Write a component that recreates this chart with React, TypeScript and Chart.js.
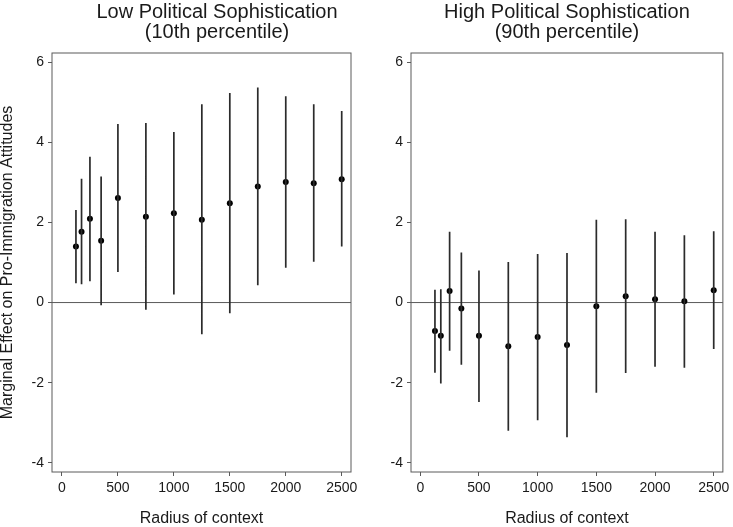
import React, { useEffect, useRef } from "react";
import { Chart, registerables } from "chart.js";

Chart.register(...registerables);

// ---------- data ----------
const radius = [125, 175, 250, 350, 500, 750, 1000, 1250, 1500, 1750, 2000, 2250, 2500];

const lowEst = [1.40, 1.77, 2.09, 1.54, 2.61, 2.14, 2.23, 2.07, 2.48, 2.90, 3.01, 2.98, 3.08];
const lowLo = [0.48, 0.46, 0.53, -0.07, 0.76, -0.18, 0.20, -0.79, -0.27, 0.43, 0.87, 1.02, 1.40];
const lowHi = [2.31, 3.09, 3.64, 3.15, 4.46, 4.48, 4.26, 4.95, 5.23, 5.37, 5.15, 4.95, 4.78];

const highEst = [-0.71, -0.83, 0.29, -0.15, -0.83, -1.09, -0.86, -1.06, -0.09, 0.16, 0.08, 0.03, 0.31];
const highLo = [-1.75, -2.02, -1.20, -1.55, -2.48, -3.20, -2.94, -3.36, -2.25, -1.76, -1.60, -1.63, -1.16];
const highHi = [0.32, 0.33, 1.77, 1.25, 0.80, 1.01, 1.21, 1.24, 2.07, 2.08, 1.77, 1.68, 1.78];

const xTicks = [0, 500, 1000, 1500, 2000, 2500];
const yTicks = [-4, -2, 0, 2, 4, 6];

const leftTitle = ["Low Political Sophistication", "(10th percentile)"];
const rightTitle = ["High Political Sophistication", "(90th percentile)"];
const xTitle = "Radius of context";
const yTitle = "Marginal Effect on Pro-Immigration Attitudes";

const FONT = "'Liberation Sans', Arial, Helvetica, sans-serif";
const TEXT = "#1a1a1a";
const AXIS = "#5a5a5a";

const panelPlugin = {
  id: "panelDecor",
  beforeDatasetsDraw(chart: any) {
    const { ctx, chartArea, scales } = chart;
    const y0 = scales.y.getPixelForValue(0);
    ctx.save();
    ctx.strokeStyle = AXIS;
    ctx.lineWidth = 1;
    ctx.beginPath();
    ctx.moveTo(chartArea.left, y0);
    ctx.lineTo(chartArea.right, y0);
    ctx.stroke();
    ctx.restore();
  },
  afterDraw(chart: any, _args: any, opts: any) {
    const { ctx, chartArea } = chart;
    ctx.save();
    ctx.strokeStyle = AXIS;
    ctx.lineWidth = 1;
    ctx.strokeRect(chartArea.left, chartArea.top, chartArea.right - chartArea.left, chartArea.bottom - chartArea.top);
    const lines: string[] = opts.lines || [];
    const cx = (chartArea.left + chartArea.right) / 2 + (opts.offsetX || 0);
    ctx.fillStyle = TEXT;
    ctx.font = `20px ${FONT}`;
    ctx.textAlign = "center";
    ctx.textBaseline = "alphabetic";
    lines.forEach((t, i) => ctx.fillText(t, cx, 17.5 + i * 20));
    ctx.restore();
  },
};

type PanelProps = {
  est: number[];
  lo: number[];
  hi: number[];
  title: string[];
  titleOffset: number;
  showYTitle: boolean;
  yAxisWidth: number;
  padRight: number;
  xMin: number;
  xMax: number;
  width: number;
};

function Panel(p: PanelProps) {
  const ref = useRef<HTMLCanvasElement>(null);
  useEffect(() => {
    if (!ref.current) return;
    const bars: any[] = [];
    radius.forEach((x, i) => {
      bars.push({ x, y: p.lo[i] });
      bars.push({ x, y: p.hi[i] });
      bars.push({ x, y: null });
    });
    const points = radius.map((x, i) => ({ x, y: p.est[i] }));
    const chart = new Chart(ref.current, {
      type: "scatter",
      data: {
        datasets: [
          {
            type: "line",
            data: bars,
            borderColor: "#2b2b2b",
            borderWidth: 1.7,
            pointRadius: 0,
            spanGaps: false,
            fill: false,
          } as any,
          {
            type: "scatter",
            data: points,
            backgroundColor: "#000",
            borderColor: "#000",
            pointRadius: 3,
            borderWidth: 0,
          } as any,
        ],
      },
      options: {
        animation: false,
        responsive: false,
        devicePixelRatio: 1,
        layout: { padding: { top: 53, right: p.padRight, bottom: 0, left: 0 } },
        plugins: {
          legend: { display: false },
          tooltip: { enabled: false },
          panelDecor: { lines: p.title, offsetX: p.titleOffset },
        } as any,
        scales: {
          x: {
            type: "linear",
            min: p.xMin,
            max: p.xMax,
            afterBuildTicks: (s: any) => {
              s.ticks = xTicks.map((v) => ({ value: v }));
            },
            afterFit: (s: any) => {
              s.height = 55;
            },
            ticks: {
              font: { family: FONT, size: 14 },
              color: TEXT,
              padding: 3.5,
              maxRotation: 0,
              callback: (v: any) => String(v),
            },
            grid: { drawOnChartArea: false, drawTicks: true, tickLength: 4, color: AXIS },
            border: { display: false },
            title: {
              display: true,
              text: xTitle,
              color: TEXT,
              font: { family: FONT, size: 16, lineHeight: 1.0625 },
              padding: { top: 0, bottom: 0 },
            },
          },
          y: {
            type: "linear",
            min: -4.23,
            max: 6.23,
            afterBuildTicks: (s: any) => {
              s.ticks = yTicks.map((v) => ({ value: v }));
            },
            afterFit: (s: any) => {
              s.width = p.yAxisWidth;
            },
            ticks: {
              font: { family: FONT, size: 14 },
              color: TEXT,
              padding: 4,
              callback: (v: any) => String(v),
            },
            grid: { drawOnChartArea: false, drawTicks: true, tickLength: 4, color: AXIS },
            border: { display: false },
            title: {
              display: p.showYTitle,
              text: yTitle,
              color: TEXT,
              font: { family: FONT, size: 16, lineHeight: 1.0 },
              padding: { top: 0, bottom: 0 },
            },
          },
        },
      },
      plugins: [panelPlugin as any],
    });
    return () => chart.destroy();
  }, []);
  return (
    <canvas
      ref={ref}
      width={p.width}
      height={527}
      style={{ width: p.width, height: 527, display: "block" }}
    />
  );
}

export default function App() {
  return (
    <div
      style={{
        position: "absolute",
        left: 0,
        top: 0,
        width: 733,
        height: 527,
        display: "flex",
        background: "#fff",
      }}
    >
      <Panel
        est={lowEst}
        lo={lowLo}
        hi={lowHi}
        title={leftTitle}
        titleOffset={15.5}
        showYTitle={true}
        yAxisWidth={52}
        padRight={15}
        xMin={-89}
        xMax={2583}
        width={366}
      />
      <Panel
        est={highEst}
        lo={highLo}
        hi={highHi}
        title={rightTitle}
        titleOffset={0}
        showYTitle={false}
        yAxisWidth={45}
        padRight={7}
        xMin={-79}
        xMax={2578}
        width={367}
      />
    </div>
  );
}
